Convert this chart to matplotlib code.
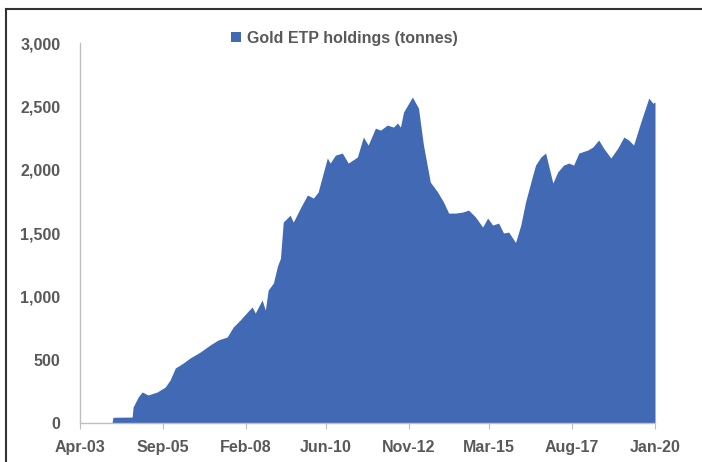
import pandas as pd
import matplotlib
matplotlib.use('Agg')
import matplotlib.pyplot as plt
from matplotlib.lines import Line2D
from matplotlib.ticker import FuncFormatter

## Gold ETP holdings (tonnes)
dates = ['2003-04-01', '2004-03-07', '2004-03-17', '2004-10-07', '2004-10-17',
         '2004-12-10', '2005-01-21', '2005-03-25', '2005-07-01', '2005-09-24',
         '2005-11-15', '2006-01-09', '2006-04-03', '2006-06-15', '2006-10-01',
         '2007-01-15', '2007-04-09', '2007-07-15', '2007-09-18', '2007-12-01',
         '2008-02-15', '2008-04-06', '2008-05-09', '2008-07-21', '2008-08-24',
         '2008-09-24', '2008-11-18', '2009-01-01', '2009-02-01', '2009-03-03',
         '2009-05-15', '2009-06-18', '2009-09-01', '2009-11-15', '2010-01-18',
         '2010-03-09', '2010-06-15', '2010-07-15', '2010-09-09', '2010-11-21',
         '2011-01-24', '2011-05-01', '2011-07-03', '2011-08-24', '2011-11-09',
         '2012-01-01', '2012-03-15', '2012-05-18', '2012-07-01', '2012-08-01',
         '2012-09-03', '2012-12-06', '2013-02-09', '2013-04-03', '2013-06-15',
         '2013-09-01', '2013-11-03', '2013-12-27', '2014-03-09', '2014-05-24',
         '2014-07-27', '2014-10-09', '2014-12-24', '2015-02-15', '2015-04-09',
         '2015-06-12', '2015-08-03', '2015-09-27', '2015-12-09', '2016-02-03',
         '2016-03-24', '2016-06-09', '2016-07-09', '2016-09-03', '2016-10-24',
         '2017-01-09', '2017-03-01', '2017-05-03', '2017-06-27', '2017-08-18',
         '2017-10-12', '2018-01-15', '2018-03-09', '2018-05-12', '2018-07-03',
         '2018-09-18', '2018-12-01', '2019-02-03', '2019-03-27', '2019-05-18',
         '2019-08-03', '2019-10-27', '2019-12-09', '2020-01-01']
holdings = [0, 0, 45, 47, 126,
            205, 245, 221, 245, 284,
            340, 434, 473, 513, 560,
            616, 655, 679, 758, 813,
            876, 916, 868, 971, 892,
            1050, 1105, 1240, 1300, 1586,
            1641, 1586, 1697, 1800, 1776,
            1823, 2092, 2052, 2115, 2131,
            2052, 2100, 2257, 2194, 2328,
            2312, 2352, 2336, 2368, 2336,
            2455, 2573, 2486, 2194, 1902,
            1823, 1744, 1657, 1657, 1665,
            1681, 1626, 1547, 1618, 1563,
            1578, 1500, 1507, 1425, 1563,
            1744, 1957, 2036, 2100, 2131,
            1894, 1981, 2036, 2052, 2036,
            2131, 2155, 2178, 2234, 2170,
            2092, 2170, 2257, 2234, 2194,
            2376, 2565, 2525, 2533]

tick_dates  = ['2003-04-01', '2005-09-01', '2008-02-01', '2010-06-01',
               '2012-11-01', '2015-03-01', '2017-08-01', '2020-01-01']
tick_labels = ['Apr-03', 'Sep-05', 'Feb-08', 'Jun-10',
               'Nov-12', 'Mar-15', 'Aug-17', 'Jan-20']

x = pd.to_datetime(dates)
xt = pd.to_datetime(tick_dates)

blue = '#4169b4'
grey = '#595959'
plt.rcParams['font.family'] = ['Liberation Sans', 'DejaVu Sans']

fig = plt.figure(figsize=(7.02, 4.62), dpi=100, facecolor='w')
ax = fig.add_axes([80/702, 1 - 423/462, 575/702, 380/462])

ax.fill_between(x, holdings, 0, color=blue, lw=0, label='Gold ETP holdings (tonnes)')

ax.set_xlim(xt[0], xt[-1])
ax.set_ylim(0, 3000)
ax.set_xticks(xt)
ax.set_xticklabels(tick_labels)
ax.set_yticks([0, 500, 1000, 1500, 2000, 2500, 3000])
ax.yaxis.set_major_formatter(FuncFormatter(lambda v, p: '{:,.0f}'.format(v)))

for s in ['top', 'right']:
    ax.spines[s].set_visible(False)
for s in ['left', 'bottom']:
    ax.spines[s].set_color('#bfbfbf')
    ax.spines[s].set_linewidth(1.0)

ax.tick_params(axis='x', length=4, color='#bfbfbf', labelsize=11.5, labelcolor=grey, pad=8)
ax.tick_params(axis='y', length=0, labelsize=11.5, labelcolor=grey, pad=14)
for lab in ax.get_xticklabels() + ax.get_yticklabels():
    lab.set_fontweight('bold')

leg = ax.legend(loc='upper center', bbox_to_anchor=(0.46, 1.07), frameon=False,
                handlelength=0.6, handleheight=0.6, handletextpad=0.4,
                prop={'size': 11.5, 'weight': 'bold'})
for t in leg.get_texts():
    t.set_color(grey)

## frame around the picture (only left and top edges are visible)
fig.add_artist(Line2D([6/702, 6/702], [0, 1 - 9/462], color='#333333', lw=1.5,
                      transform=fig.transFigure))
fig.add_artist(Line2D([6/702, 1], [1 - 9/462, 1 - 9/462], color='#333333', lw=1.5,
                      transform=fig.transFigure))

plt.savefig('out.png', format='png', dpi=100)
plt.close()
